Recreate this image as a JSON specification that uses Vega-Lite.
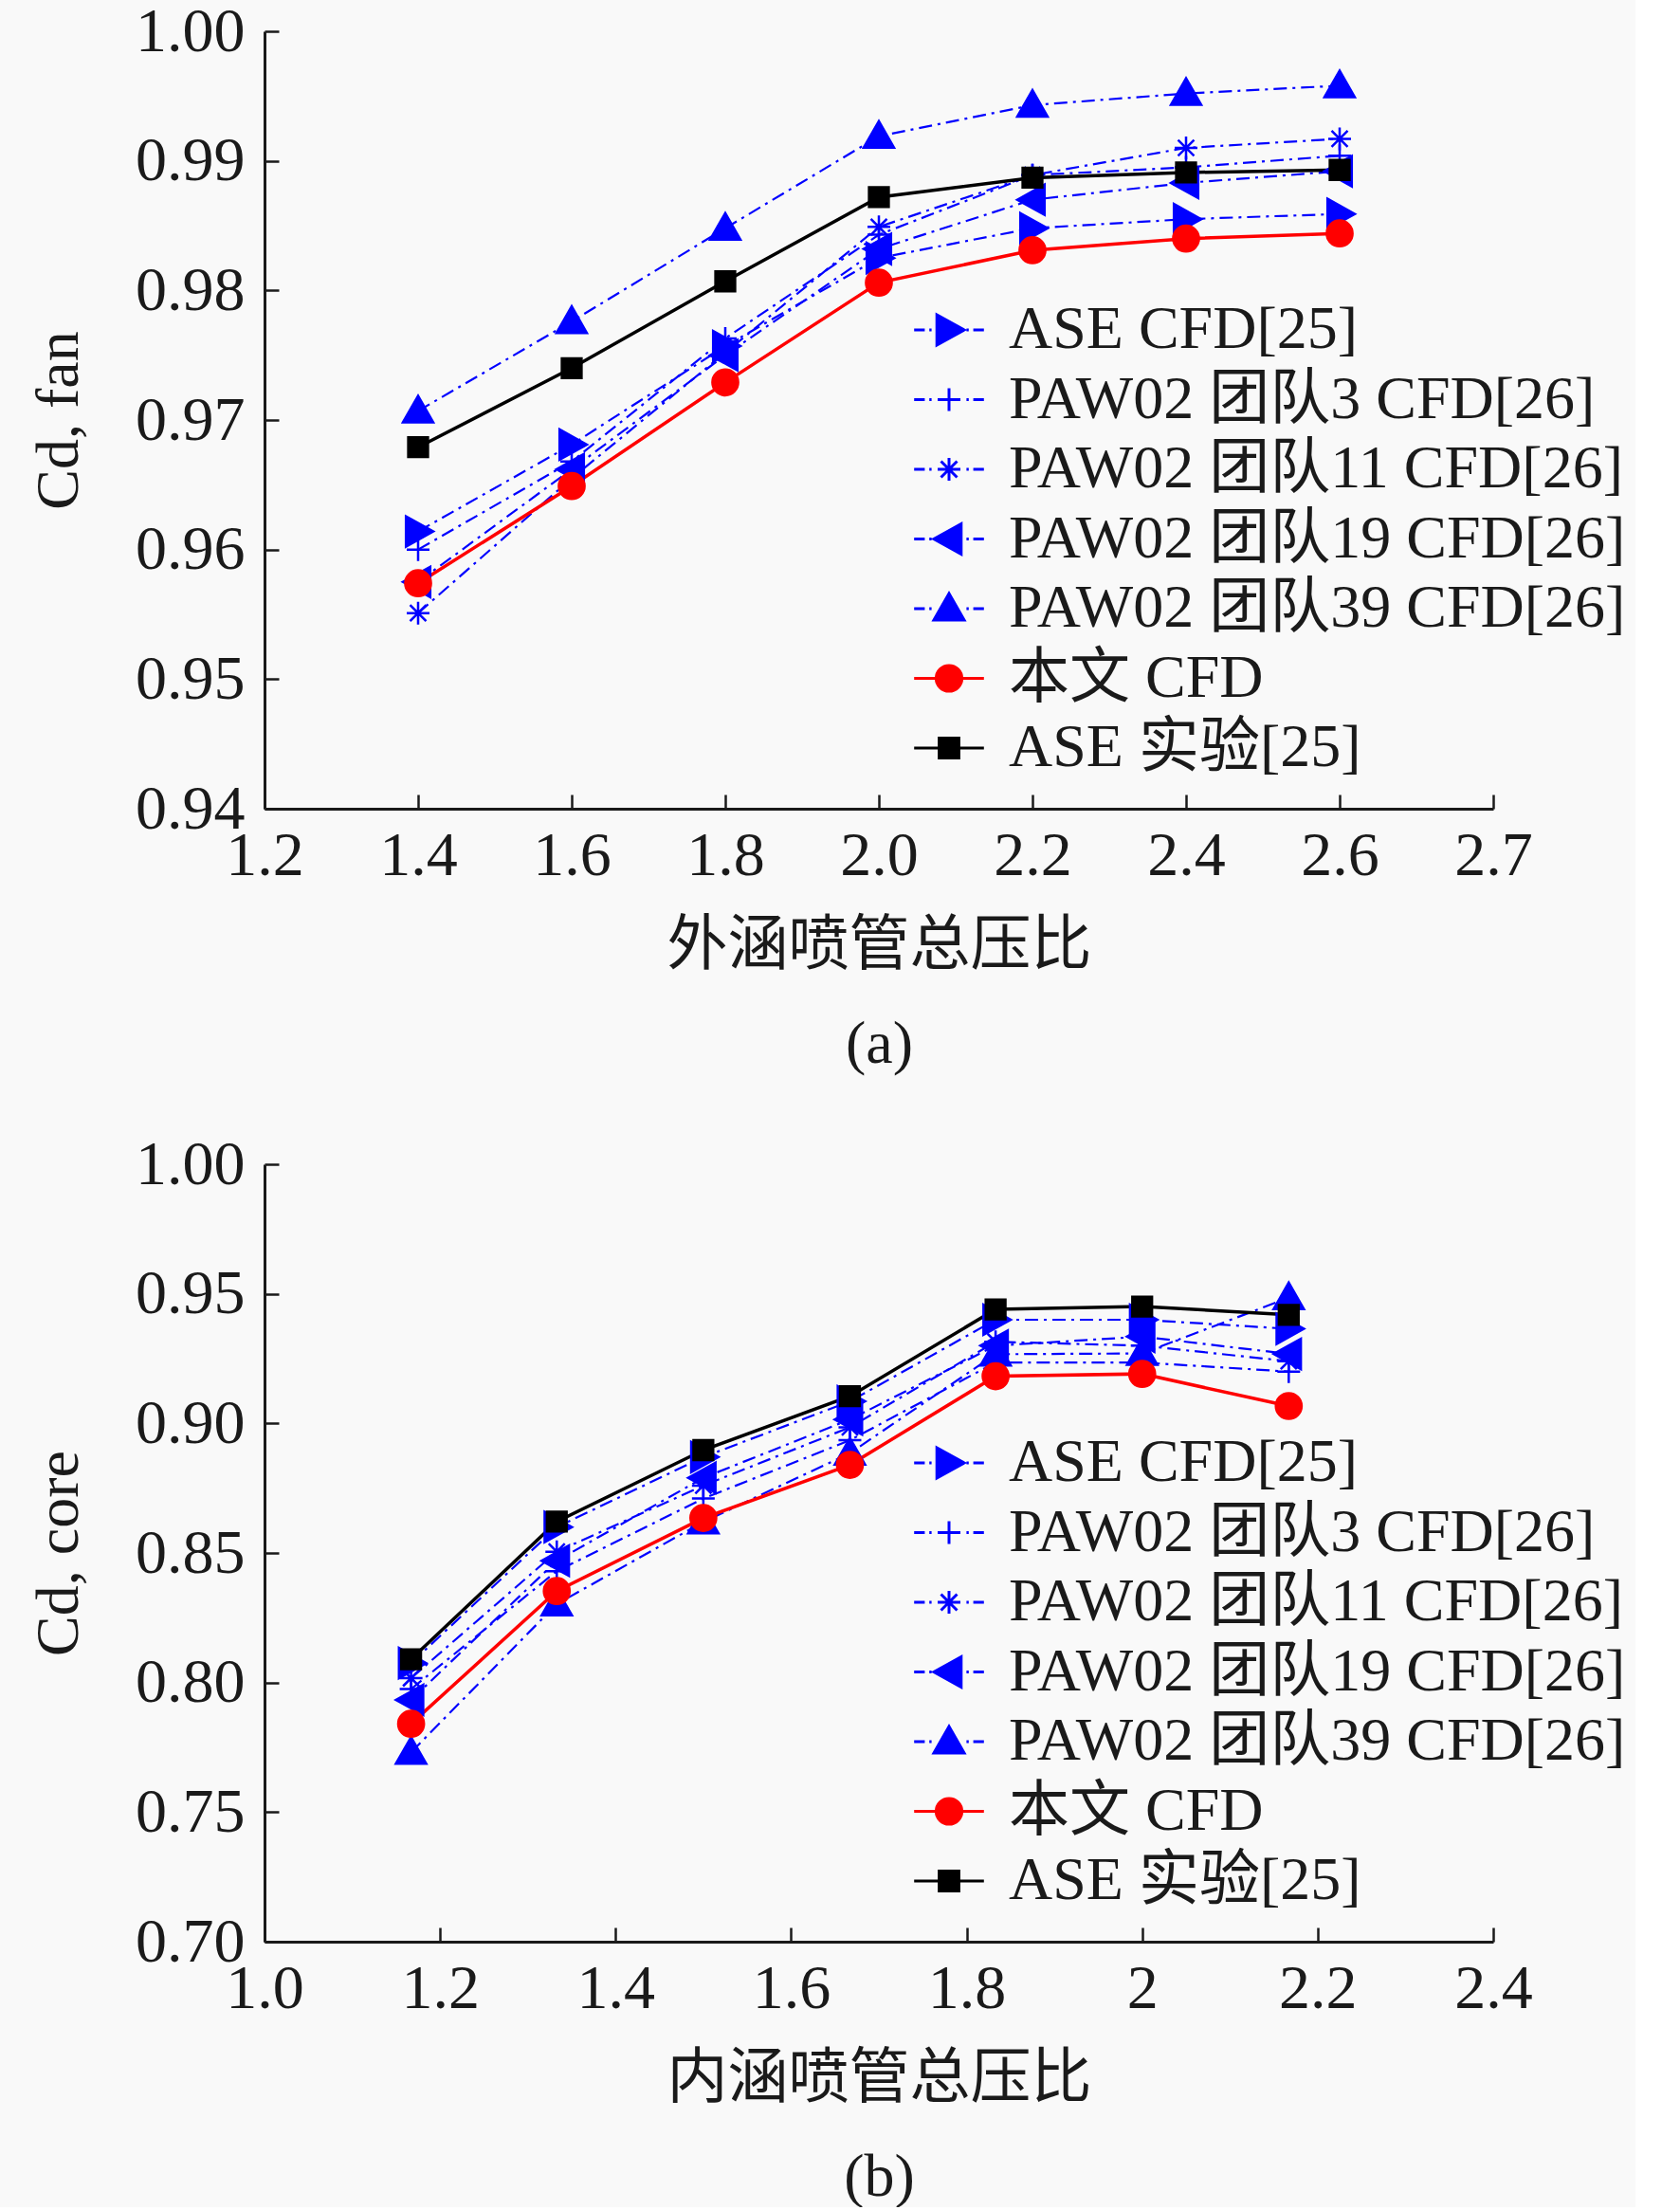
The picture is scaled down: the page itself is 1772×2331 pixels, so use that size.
{
  "$schema": "https://vega.github.io/schema/vega-lite/v6.json",
  "background": "#f9f9f9",
  "padding": {"left": 30, "top": 0, "right": 10, "bottom": 0},
  "datasets": {
    "fan": [
      {"series": "PAW02 团队39 CFD[26]", "pr": 1.4, "cd": 0.9707},
      {"series": "PAW02 团队39 CFD[26]", "pr": 1.6, "cd": 0.9776},
      {"series": "PAW02 团队39 CFD[26]", "pr": 1.8, "cd": 0.9848},
      {"series": "PAW02 团队39 CFD[26]", "pr": 2.0, "cd": 0.9919},
      {"series": "PAW02 团队39 CFD[26]", "pr": 2.2, "cd": 0.9943},
      {"series": "PAW02 团队39 CFD[26]", "pr": 2.4, "cd": 0.9952},
      {"series": "PAW02 团队39 CFD[26]", "pr": 2.6, "cd": 0.9958},
      {"series": "PAW02 团队19 CFD[26]", "pr": 1.4, "cd": 0.9575},
      {"series": "PAW02 团队19 CFD[26]", "pr": 1.6, "cd": 0.9662},
      {"series": "PAW02 团队19 CFD[26]", "pr": 1.8, "cd": 0.9750},
      {"series": "PAW02 团队19 CFD[26]", "pr": 2.0, "cd": 0.9832},
      {"series": "PAW02 团队19 CFD[26]", "pr": 2.2, "cd": 0.9870},
      {"series": "PAW02 团队19 CFD[26]", "pr": 2.4, "cd": 0.9883},
      {"series": "PAW02 团队19 CFD[26]", "pr": 2.6, "cd": 0.9892},
      {"series": "PAW02 团队11 CFD[26]", "pr": 1.4, "cd": 0.9551},
      {"series": "PAW02 团队11 CFD[26]", "pr": 1.6, "cd": 0.9655},
      {"series": "PAW02 团队11 CFD[26]", "pr": 1.8, "cd": 0.9752},
      {"series": "PAW02 团队11 CFD[26]", "pr": 2.0, "cd": 0.9849},
      {"series": "PAW02 团队11 CFD[26]", "pr": 2.2, "cd": 0.9889},
      {"series": "PAW02 团队11 CFD[26]", "pr": 2.4, "cd": 0.9910},
      {"series": "PAW02 团队11 CFD[26]", "pr": 2.6, "cd": 0.9917},
      {"series": "PAW02 团队3 CFD[26]", "pr": 1.4, "cd": 0.9600},
      {"series": "PAW02 团队3 CFD[26]", "pr": 1.6, "cd": 0.9668},
      {"series": "PAW02 团队3 CFD[26]", "pr": 1.8, "cd": 0.9763},
      {"series": "PAW02 团队3 CFD[26]", "pr": 2.0, "cd": 0.9843},
      {"series": "PAW02 团队3 CFD[26]", "pr": 2.2, "cd": 0.9889},
      {"series": "PAW02 团队3 CFD[26]", "pr": 2.4, "cd": 0.9895},
      {"series": "PAW02 团队3 CFD[26]", "pr": 2.6, "cd": 0.9904},
      {"series": "ASE CFD[25]", "pr": 1.4, "cd": 0.9614},
      {"series": "ASE CFD[25]", "pr": 1.6, "cd": 0.9681},
      {"series": "ASE CFD[25]", "pr": 1.8, "cd": 0.9757},
      {"series": "ASE CFD[25]", "pr": 2.0, "cd": 0.9825},
      {"series": "ASE CFD[25]", "pr": 2.2, "cd": 0.9848},
      {"series": "ASE CFD[25]", "pr": 2.4, "cd": 0.9855},
      {"series": "ASE CFD[25]", "pr": 2.6, "cd": 0.9859},
      {"series": "本文 CFD", "pr": 1.4, "cd": 0.9574},
      {"series": "本文 CFD", "pr": 1.6, "cd": 0.9649},
      {"series": "本文 CFD", "pr": 1.8, "cd": 0.9729},
      {"series": "本文 CFD", "pr": 2.0, "cd": 0.9806},
      {"series": "本文 CFD", "pr": 2.2, "cd": 0.9831},
      {"series": "本文 CFD", "pr": 2.4, "cd": 0.9840},
      {"series": "本文 CFD", "pr": 2.6, "cd": 0.9844},
      {"series": "ASE 实验[25]", "pr": 1.4, "cd": 0.9679},
      {"series": "ASE 实验[25]", "pr": 1.6, "cd": 0.9740},
      {"series": "ASE 实验[25]", "pr": 1.8, "cd": 0.9807},
      {"series": "ASE 实验[25]", "pr": 2.0, "cd": 0.9872},
      {"series": "ASE 实验[25]", "pr": 2.2, "cd": 0.9887},
      {"series": "ASE 实验[25]", "pr": 2.4, "cd": 0.9891},
      {"series": "ASE 实验[25]", "pr": 2.6, "cd": 0.9893}
    ],
    "core": [
      {"series": "PAW02 团队39 CFD[26]", "pr": 1.167, "cd": 0.7731},
      {"series": "PAW02 团队39 CFD[26]", "pr": 1.333, "cd": 0.8303},
      {"series": "PAW02 团队39 CFD[26]", "pr": 1.5, "cd": 0.8620},
      {"series": "PAW02 团队39 CFD[26]", "pr": 1.667, "cd": 0.8885},
      {"series": "PAW02 团队39 CFD[26]", "pr": 1.833, "cd": 0.9267},
      {"series": "PAW02 团队39 CFD[26]", "pr": 2.0, "cd": 0.9270},
      {"series": "PAW02 团队39 CFD[26]", "pr": 2.167, "cd": 0.9485},
      {"series": "PAW02 团队19 CFD[26]", "pr": 1.167, "cd": 0.7933},
      {"series": "PAW02 团队19 CFD[26]", "pr": 1.333, "cd": 0.8470},
      {"series": "PAW02 团队19 CFD[26]", "pr": 1.5, "cd": 0.8790},
      {"series": "PAW02 团队19 CFD[26]", "pr": 1.667, "cd": 0.9015},
      {"series": "PAW02 团队19 CFD[26]", "pr": 1.833, "cd": 0.9300},
      {"series": "PAW02 团队19 CFD[26]", "pr": 2.0, "cd": 0.9335},
      {"series": "PAW02 团队19 CFD[26]", "pr": 2.167, "cd": 0.9268},
      {"series": "PAW02 团队11 CFD[26]", "pr": 1.167, "cd": 0.8017},
      {"series": "PAW02 团队11 CFD[26]", "pr": 1.333, "cd": 0.8505},
      {"series": "PAW02 团队11 CFD[26]", "pr": 1.5, "cd": 0.8760},
      {"series": "PAW02 团队11 CFD[26]", "pr": 1.667, "cd": 0.8985},
      {"series": "PAW02 团队11 CFD[26]", "pr": 1.833, "cd": 0.9315},
      {"series": "PAW02 团队11 CFD[26]", "pr": 2.0, "cd": 0.9300},
      {"series": "PAW02 团队11 CFD[26]", "pr": 2.167, "cd": 0.9240},
      {"series": "PAW02 团队3 CFD[26]", "pr": 1.167, "cd": 0.7975},
      {"series": "PAW02 团队3 CFD[26]", "pr": 1.333, "cd": 0.8430},
      {"series": "PAW02 团队3 CFD[26]", "pr": 1.5, "cd": 0.8710},
      {"series": "PAW02 团队3 CFD[26]", "pr": 1.667, "cd": 0.8935},
      {"series": "PAW02 团队3 CFD[26]", "pr": 1.833, "cd": 0.9235},
      {"series": "PAW02 团队3 CFD[26]", "pr": 2.0, "cd": 0.9235},
      {"series": "PAW02 团队3 CFD[26]", "pr": 2.167, "cd": 0.9200},
      {"series": "ASE CFD[25]", "pr": 1.167, "cd": 0.8075},
      {"series": "ASE CFD[25]", "pr": 1.333, "cd": 0.8600},
      {"series": "ASE CFD[25]", "pr": 1.5, "cd": 0.8870},
      {"series": "ASE CFD[25]", "pr": 1.667, "cd": 0.9085},
      {"series": "ASE CFD[25]", "pr": 1.833, "cd": 0.9400},
      {"series": "ASE CFD[25]", "pr": 2.0, "cd": 0.9400},
      {"series": "ASE CFD[25]", "pr": 2.167, "cd": 0.9365},
      {"series": "本文 CFD", "pr": 1.167, "cd": 0.7841},
      {"series": "本文 CFD", "pr": 1.333, "cd": 0.8353},
      {"series": "本文 CFD", "pr": 1.5, "cd": 0.8635},
      {"series": "本文 CFD", "pr": 1.667, "cd": 0.8840},
      {"series": "本文 CFD", "pr": 1.833, "cd": 0.9182},
      {"series": "本文 CFD", "pr": 2.0, "cd": 0.9191},
      {"series": "本文 CFD", "pr": 2.167, "cd": 0.9067},
      {"series": "ASE 实验[25]", "pr": 1.167, "cd": 0.8090},
      {"series": "ASE 实验[25]", "pr": 1.333, "cd": 0.8621},
      {"series": "ASE 实验[25]", "pr": 1.5, "cd": 0.8897},
      {"series": "ASE 实验[25]", "pr": 1.667, "cd": 0.9105},
      {"series": "ASE 实验[25]", "pr": 1.833, "cd": 0.9440},
      {"series": "ASE 实验[25]", "pr": 2.0, "cd": 0.9451},
      {"series": "ASE 实验[25]", "pr": 2.167, "cd": 0.9419}
    ]
  },
  "config": {
    "font": "Liberation Serif, Noto Sans CJK SC",
    "view": {"stroke": null},
    "axis": {
      "grid": false,
      "domainColor": "#1a1a1a",
      "domainWidth": 3,
      "tickColor": "#1a1a1a",
      "tickWidth": 2.5,
      "tickSize": -15,
      "labelFont": "Liberation Serif, Noto Sans CJK SC",
      "labelFontSize": 66,
      "labelColor": "#1a1a1a",
      "labelFlush": false,
      "labelOverlap": false,
      "titleFont": "Liberation Serif, Noto Sans CJK SC",
      "titleFontSize": 64,
      "titleFontWeight": "normal",
      "titleColor": "#1a1a1a"
    },
    "legend": {
      "orient": "none",
      "legendX": 690,
      "legendY": 283,
      "padding": 0,
      "symbolSize": 1024,
      "symbolStrokeWidth": 3,
      "labelFont": "Liberation Serif, Noto Sans CJK SC",
      "labelFontSize": 64,
      "labelColor": "#1a1a1a",
      "labelLimit": 0,
      "labelOffset": 31,
      "rowPadding": 9.5,
      "title": null
    }
  },
  "spacing": 62,
  "vconcat": [
    {
      "width": 1296,
      "height": 820,
      "data": {"name": "fan"},
      "resolve": {"scale": {"shape": "independent"}, "legend": {"fill": "independent", "stroke": "independent", "shape": "independent"}},
      "encoding": {
        "x": {
          "field": "pr",
          "type": "quantitative",
          "scale": {"domain": [1.2, 2.8], "nice": false, "zero": false},
          "axis": {
            "values": [1.2, 1.4, 1.6, 1.8, 2.0, 2.2, 2.4, 2.6, 2.8],
            "labelExpr": "datum.value > 2.75 ? '2.7' : format(datum.value, '.1f')",
            "labelPadding": 32,
            "title": ["外涵喷管总压比", "(a)"],
            "titleLineHeight": 104,
            "titlePadding": 30
          }
        },
        "y": {
          "field": "cd",
          "type": "quantitative",
          "scale": {"domain": [0.94, 1.0], "nice": false, "zero": false},
          "axis": {
            "values": [0.94, 0.95, 0.96, 0.97, 0.98, 0.99, 1.0],
            "format": ".2f",
            "labelPadding": 36,
            "title": "Cd, fan",
            "titlePadding": 48
          }
        }
      },
      "layer": [
        {
          "transform": [{"filter": "indexof(['本文 CFD', 'ASE 实验[25]'], datum.series) < 0"}],
          "mark": {"type": "line", "strokeWidth": 2.2, "strokeDash": [14, 6, 3, 6]},
          "encoding": {
            "stroke": {"field": "series", "type": "nominal", "legend": null,
              "scale": {"domain": ["ASE CFD[25]", "PAW02 团队3 CFD[26]", "PAW02 团队11 CFD[26]", "PAW02 团队19 CFD[26]", "PAW02 团队39 CFD[26]", "本文 CFD", "ASE 实验[25]"],
                        "range": ["#0000ff", "#0000ff", "#0000ff", "#0000ff", "#0000ff", "#ff0000", "#000000"]}}
          }
        },
        {
          "transform": [{"filter": "indexof(['本文 CFD', 'ASE 实验[25]'], datum.series) >= 0"}],
          "mark": {"type": "line", "strokeWidth": 3.5},
          "encoding": {
            "stroke": {"field": "series", "type": "nominal", "legend": null}
          }
        },
        {
          "mark": {"type": "point", "size": 1024, "opacity": 1, "strokeWidth": 2.5},
          "encoding": {
            "stroke": {"field": "series", "type": "nominal", "legend": null},
            "fill": {"field": "series", "type": "nominal", "legend": null,
              "scale": {"domain": ["ASE CFD[25]", "PAW02 团队3 CFD[26]", "PAW02 团队11 CFD[26]", "PAW02 团队19 CFD[26]", "PAW02 团队39 CFD[26]", "本文 CFD", "ASE 实验[25]"],
                        "range": ["#0000ff", "#0000ff", "#0000ff", "#0000ff", "#0000ff", "#ff0000", "#000000"]}},
            "shape": {"field": "series", "type": "nominal", "legend": null,
              "scale": {"domain": ["ASE CFD[25]", "PAW02 团队3 CFD[26]", "PAW02 团队11 CFD[26]", "PAW02 团队19 CFD[26]", "PAW02 团队39 CFD[26]", "本文 CFD", "ASE 实验[25]"],
                        "range": ["M-0.8,-1L1,0L-0.8,1Z", "M-0.75,0L0.75,0M0,-0.75L0,0.75", "M-0.75,0L0.75,0M0,-0.75L0,0.75M-0.53,-0.53L0.53,0.53M-0.53,0.53L0.53,-0.53", "M0.8,-1L-1,0L0.8,1Z", "M-1,0.75L0,-1L1,0.75Z", "M0.85,0A0.85,0.85,0,1,1,-0.85,0A0.85,0.85,0,1,1,0.85,0Z", "M-0.65,-0.65L0.65,-0.65L0.65,0.65L-0.65,0.65Z"]}}
          }
        },
        {
          "transform": [{"filter": "false"}],
          "mark": {"type": "point", "size": 1024, "opacity": 1, "strokeWidth": 3},
          "encoding": {
            "stroke": {"field": "series", "type": "nominal", "legend": {}},
            "fill": {"field": "series", "type": "nominal", "legend": {}},
            "shape": {"field": "series", "type": "nominal", "legend": {},
              "scale": {"domain": ["ASE CFD[25]", "PAW02 团队3 CFD[26]", "PAW02 团队11 CFD[26]", "PAW02 团队19 CFD[26]", "PAW02 团队39 CFD[26]", "本文 CFD", "ASE 实验[25]"],
                        "range": [
                          "M-2.3,0L-1.6,0M-1.3,0L-1.15,0M1.15,0L1.3,0M1.6,0L2.3,0M-0.8,-1L1,0L-0.8,1Z",
                          "M-2.3,0L-1.6,0M-1.3,0L-1.15,0M1.15,0L1.3,0M1.6,0L2.3,0M-0.75,0L0.75,0M0,-0.75L0,0.75",
                          "M-2.3,0L-1.6,0M-1.3,0L-1.15,0M1.15,0L1.3,0M1.6,0L2.3,0M-0.75,0L0.75,0M0,-0.75L0,0.75M-0.53,-0.53L0.53,0.53M-0.53,0.53L0.53,-0.53",
                          "M-2.3,0L-1.6,0M-1.3,0L-1.15,0M1.15,0L1.3,0M1.6,0L2.3,0M0.8,-1L-1,0L0.8,1Z",
                          "M-2.3,0L-1.6,0M-1.3,0L-1.15,0M1.15,0L1.3,0M1.6,0L2.3,0M-1,0.75L0,-1L1,0.75Z",
                          "M-2.3,0L2.3,0M0.85,0A0.85,0.85,0,1,1,-0.85,0A0.85,0.85,0,1,1,0.85,0Z",
                          "M-2.3,0L2.3,0M-0.65,-0.65L0.65,-0.65L0.65,0.65L-0.65,0.65Z"]}}
          }
        }
      ]
    },
    {
      "width": 1296,
      "height": 820,
      "data": {"name": "core"},
      "resolve": {"scale": {"shape": "independent"}, "legend": {"fill": "independent", "stroke": "independent", "shape": "independent"}},
      "encoding": {
        "x": {
          "field": "pr",
          "type": "quantitative",
          "scale": {"domain": [1.0, 2.4], "nice": false, "zero": false},
          "axis": {
            "values": [1.0, 1.2, 1.4, 1.6, 1.8, 2.0, 2.2, 2.4],
            "labelExpr": "abs(datum.value - 2) < 0.001 ? '2' : format(datum.value, '.1f')",
            "labelPadding": 32,
            "title": ["内涵喷管总压比", "(b)"],
            "titleLineHeight": 104,
            "titlePadding": 30
          }
        },
        "y": {
          "field": "cd",
          "type": "quantitative",
          "scale": {"domain": [0.7, 1.0], "nice": false, "zero": false},
          "axis": {
            "values": [0.7, 0.75, 0.8, 0.85, 0.9, 0.95, 1.0],
            "format": ".2f",
            "labelPadding": 36,
            "title": "Cd, core",
            "titlePadding": 48
          }
        }
      },
      "layer": [
        {
          "transform": [{"filter": "indexof(['本文 CFD', 'ASE 实验[25]'], datum.series) < 0"}],
          "mark": {"type": "line", "strokeWidth": 2.2, "strokeDash": [14, 6, 3, 6]},
          "encoding": {
            "stroke": {"field": "series", "type": "nominal", "legend": null}
          }
        },
        {
          "transform": [{"filter": "indexof(['本文 CFD', 'ASE 实验[25]'], datum.series) >= 0"}],
          "mark": {"type": "line", "strokeWidth": 3.5},
          "encoding": {
            "stroke": {"field": "series", "type": "nominal", "legend": null}
          }
        },
        {
          "mark": {"type": "point", "size": 1024, "opacity": 1, "strokeWidth": 2.5},
          "encoding": {
            "stroke": {"field": "series", "type": "nominal", "legend": null},
            "fill": {"field": "series", "type": "nominal", "legend": null},
            "shape": {"field": "series", "type": "nominal", "legend": null,
              "scale": {"domain": ["ASE CFD[25]", "PAW02 团队3 CFD[26]", "PAW02 团队11 CFD[26]", "PAW02 团队19 CFD[26]", "PAW02 团队39 CFD[26]", "本文 CFD", "ASE 实验[25]"],
                        "range": ["M-0.8,-1L1,0L-0.8,1Z", "M-0.75,0L0.75,0M0,-0.75L0,0.75", "M-0.75,0L0.75,0M0,-0.75L0,0.75M-0.53,-0.53L0.53,0.53M-0.53,0.53L0.53,-0.53", "M0.8,-1L-1,0L0.8,1Z", "M-1,0.75L0,-1L1,0.75Z", "M0.85,0A0.85,0.85,0,1,1,-0.85,0A0.85,0.85,0,1,1,0.85,0Z", "M-0.65,-0.65L0.65,-0.65L0.65,0.65L-0.65,0.65Z"]}}
          }
        },
        {
          "transform": [{"filter": "false"}],
          "mark": {"type": "point", "size": 1024, "opacity": 1, "strokeWidth": 3},
          "encoding": {
            "stroke": {"field": "series", "type": "nominal", "legend": {}},
            "fill": {"field": "series", "type": "nominal", "legend": {}},
            "shape": {"field": "series", "type": "nominal", "legend": {},
              "scale": {"domain": ["ASE CFD[25]", "PAW02 团队3 CFD[26]", "PAW02 团队11 CFD[26]", "PAW02 团队19 CFD[26]", "PAW02 团队39 CFD[26]", "本文 CFD", "ASE 实验[25]"],
                        "range": [
                          "M-2.3,0L-1.6,0M-1.3,0L-1.15,0M1.15,0L1.3,0M1.6,0L2.3,0M-0.8,-1L1,0L-0.8,1Z",
                          "M-2.3,0L-1.6,0M-1.3,0L-1.15,0M1.15,0L1.3,0M1.6,0L2.3,0M-0.75,0L0.75,0M0,-0.75L0,0.75",
                          "M-2.3,0L-1.6,0M-1.3,0L-1.15,0M1.15,0L1.3,0M1.6,0L2.3,0M-0.75,0L0.75,0M0,-0.75L0,0.75M-0.53,-0.53L0.53,0.53M-0.53,0.53L0.53,-0.53",
                          "M-2.3,0L-1.6,0M-1.3,0L-1.15,0M1.15,0L1.3,0M1.6,0L2.3,0M0.8,-1L-1,0L0.8,1Z",
                          "M-2.3,0L-1.6,0M-1.3,0L-1.15,0M1.15,0L1.3,0M1.6,0L2.3,0M-1,0.75L0,-1L1,0.75Z",
                          "M-2.3,0L2.3,0M0.85,0A0.85,0.85,0,1,1,-0.85,0A0.85,0.85,0,1,1,0.85,0Z",
                          "M-2.3,0L2.3,0M-0.65,-0.65L0.65,-0.65L0.65,0.65L-0.65,0.65Z"]}}
          }
        }
      ]
    }
  ]
}
